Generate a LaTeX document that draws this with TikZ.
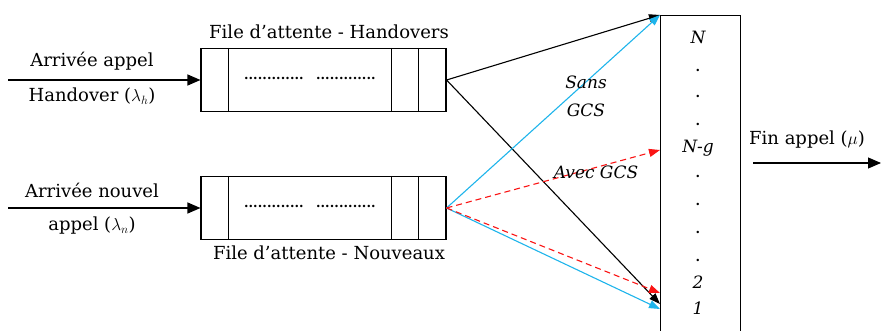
\documentclass[tikz,border=0pt]{standalone}
\usepackage{fontspec}
\setmainfont{DejaVu Serif}
\usetikzlibrary{arrows.meta, positioning}
\definecolor{sanscyan}{RGB}{30, 180, 235}
\definecolor{avecred}{RGB}{250, 20, 20}

\newcommand{\queuedots}{\hbox to 64pt{\leaders\hbox to 4.6pt{\hss.\hss}\hfill}\hspace{8pt}\hbox to 62pt{\leaders\hbox to 4.6pt{\hss.\hss}\hfill}}

\tikzset{
  queuebox/.style={draw, line width=1.1pt, minimum width=245pt, minimum height=63pt, inner sep=0pt},
  inarrow/.style={line width=1.1pt, -{Triangle[length=13pt, width=11pt]}},
  toserver/.style={line width=1.1pt, -{Triangle[length=11pt, width=8pt]}},
  lbl/.style={font=\fontsize{18}{20}\selectfont, inner sep=1pt},
  itlbl/.style={font=\fontsize{17}{20}\selectfont\itshape, inner sep=1pt},
  dotlbl/.style={font=\fontsize{13}{14}\selectfont\bfseries, inner sep=1pt},
}

\begin{document}
\begin{tikzpicture}[x=1pt, y=-1pt]
  \clip (0, 0) rectangle (881, 331);

  % queues
  \node[queuebox] (hq) at (323.5, 80) {};
  \node[queuebox] (nq) at (323.5, 208) {};
  \foreach \q in {hq, nq} {
    \draw[line width=1.1pt] ([xshift=28pt]\q.north west) -- ([xshift=28pt]\q.south west);
    \draw[line width=1.1pt] ([xshift=-55pt]\q.north east) -- ([xshift=-55pt]\q.south east);
    \draw[line width=1.1pt] ([xshift=-28pt]\q.north east) -- ([xshift=-28pt]\q.south east);
  }
  \node[dotlbl] (hqdots) at (311, 78) {\queuedots};
  \node[dotlbl] (nqdots) at (311, 206) {\queuedots};
  \node[lbl] (hqname) at (329, 32) {File d’attente - Handovers};
  \node[lbl] (nqname) at (329, 253) {File d’attente - Nouveaux};

  % arrivals
  \coordinate (hin) at (8, 80);
  \coordinate (nin) at (8, 208);
  \draw[inarrow] (hin) -- (hq.west);
  \draw[inarrow] (nin) -- (nq.west);
  \node[lbl] (harr) at (92, 61) {Arrivée appel};
  \node[lbl] (hrate) at (92, 96) {Handover ($\lambda_h$)};
  \node[lbl] (narr) at (92, 190) {Arrivée nouvel};
  \node[lbl] (nrate) at (92, 226) {appel ($\lambda_n$)};

  % server
  \node[draw, line width=1.1pt, minimum width=80pt, minimum height=330pt, inner sep=0pt, anchor=north west] (srv) at (660, 15) {};
  \node[itlbl] (chN) at (698, 37) {N};
  \node[itlbl] (chNg) at (698, 148) {N-g};
  \node[itlbl] (ch2) at (698, 282) {2};
  \node[itlbl] (ch1) at (698, 308) {1};
  \foreach \y [count=\i] in {70, 96, 124, 176, 204, 232, 260}
    \node[dotlbl] (sd\i) at (698, \y) {.};

  \coordinate (inN) at (srv.north west);
  \coordinate (inNg) at (660, 150);
  \coordinate (inRed) at (660, 293);
  \coordinate (inBlk) at (660, 304);
  \coordinate (inCyan) at (660, 309);

  % routing
  \draw[toserver] (hq.east) -- (inN);
  \draw[toserver] (hq.east) -- (inBlk);
  \draw[toserver, sanscyan] (nq.east) -- (inN);
  \draw[toserver, sanscyan] (nq.east) -- (inCyan);
  \draw[toserver, avecred, dashed, dash pattern=on 6pt off 4pt] (nq.east) -- (inNg);
  \draw[toserver, avecred, dashed, dash pattern=on 6pt off 4pt] (nq.east) -- (inRed);
  \node[itlbl] (sans1) at (586, 82) {Sans};
  \node[itlbl] (sans2) at (586, 110) {GCS};
  \node[itlbl] (avec) at (596, 172) {Avec GCS};

  % departures
  \coordinate (out) at (881, 163);
  \draw[inarrow] (753, 163) -- (out);
  \node[lbl, anchor=west] (fin) at (748, 140) {Fin appel ($\mu$)};
\end{tikzpicture}
\end{document}
